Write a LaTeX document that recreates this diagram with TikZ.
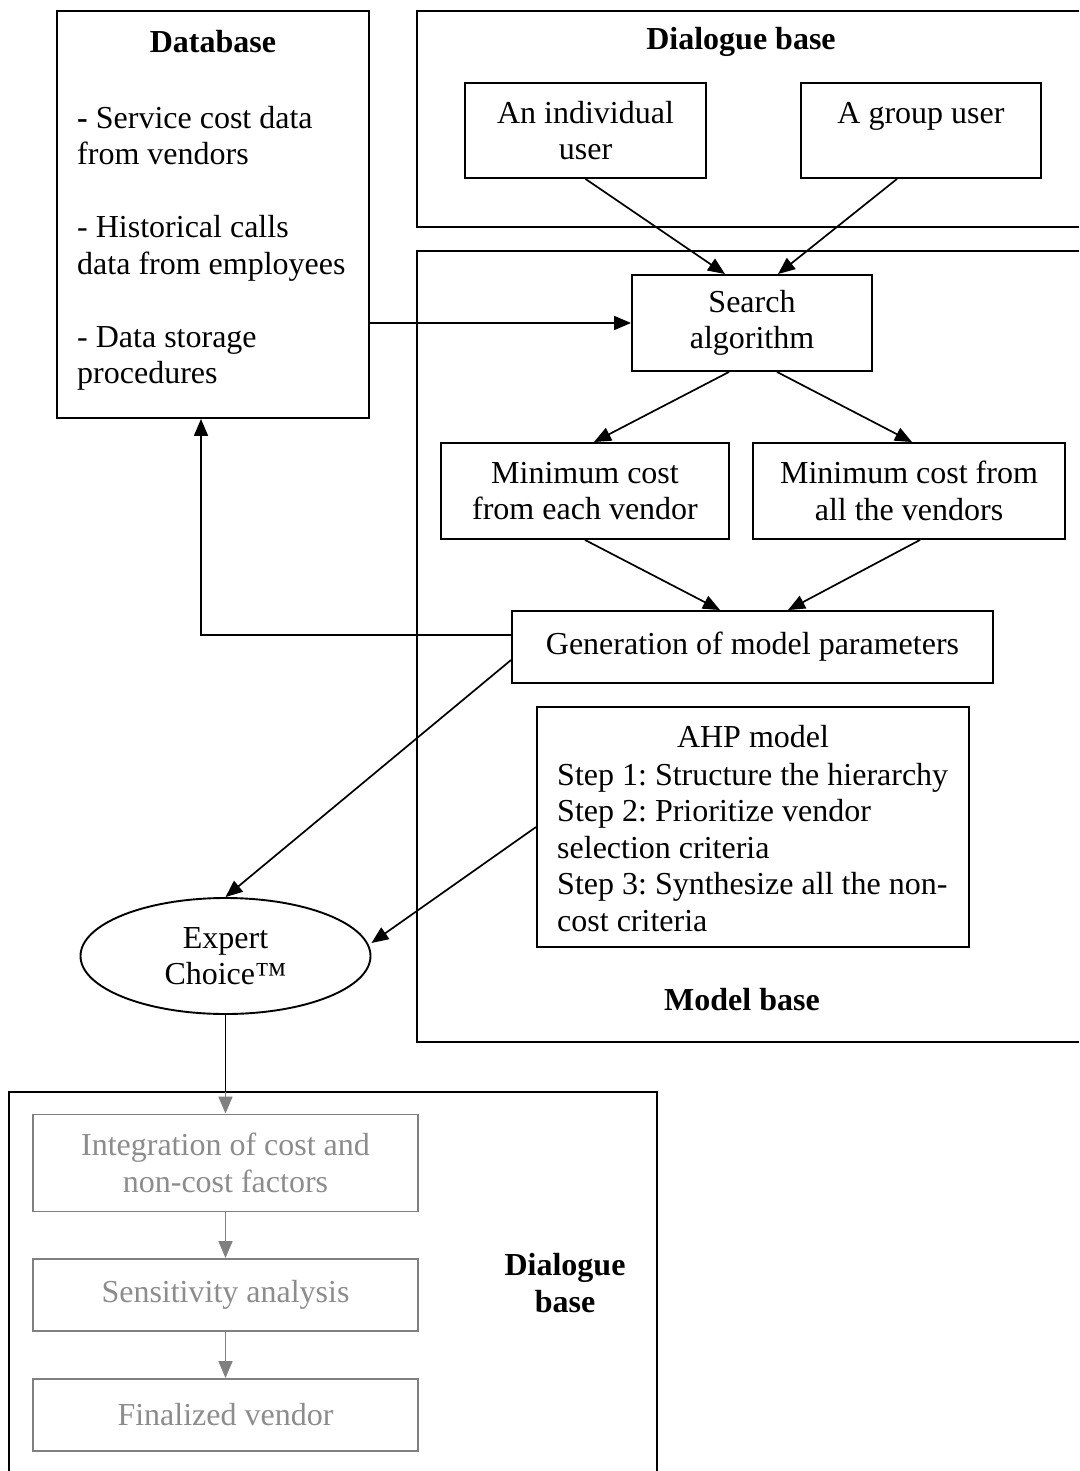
\documentclass[tikz,border=0pt]{standalone}
\usepackage{fontspec}
\setmainfont{Liberation Serif}
\usetikzlibrary{arrows.meta,shapes.geometric,calc}
\definecolor{gline}{RGB}{128,128,128}
\definecolor{gtext}{RGB}{140,140,140}
\frenchspacing
\tikzset{
  basefont/.style={font=\fontsize{32pt}{36.5pt}\selectfont\frenchspacing},
  bx/.style={basefont, draw, line width=1.9pt, inner sep=0pt, align=center},
  gbx/.style={bx, draw=gline, text=gtext},
  lbl/.style={basefont, inner sep=0pt, align=center},
  frame/.style={line width=1.9pt},
  arr/.style={line width=1.7pt, -{Triangle[length=17pt,width=14pt]}},
  garr/.style={arr, draw=gline}
}
\begin{document}
\begin{tikzpicture}[x=1pt,y=-1pt]
\useasboundingbox (0,0) rectangle (1079,1471);
% frames of the bases
\draw[frame] (1079,11) -- (417,11) -- (417,227) -- (1079,227);
\draw[frame] (1079,251) -- (417,251) -- (417,1042) -- (1079,1042);
\draw[frame] (9,1471) -- (9,1092) -- (657,1092) -- (657,1471);
\coordinate (dbottop) at (9,1092);

% database
\node[bx, minimum width=312pt, minimum height=407pt] (db) at (213,214.5) {};
\node[lbl] (dbtitle) at (213,42) {\textbf{Database}};
\node[lbl, align=left, anchor=north west] (dbtext) at (77,106)
  {\textbf{-} Service cost data\\from vendors\\[36.5pt]- Historical calls\\data from employees\\[36.5pt]- Data storage\\procedures};

% dialogue base (top)
\node[lbl] (dlgtitle) at (741,42) {\textbf{Dialogue base}};
\node[bx, minimum width=241pt, minimum height=95pt] (indiv) at (585.5,130.5) {An individual\\user};
\node[bx, minimum width=240pt, minimum height=95pt, text height=22pt, text depth=36pt] (group) at (921,130.5) {A group user};

% model base
\node[bx, minimum width=240pt, minimum height=96pt] (search) at (752,323) {Search\\algorithm};
\node[bx, minimum width=288pt, minimum height=96pt] (mineach) at (585,491) {Minimum cost\\from each vendor};
\node[bx, minimum width=312pt, minimum height=96pt] (minall) at (909,491) {Minimum cost from\\all the vendors};
\node[bx, minimum width=481pt, minimum height=72pt] (gen) at (752.5,647) {Generation of model parameters};
\node[bx, minimum width=432pt, minimum height=240pt] (ahp) at (753,827) {};
\node[lbl] (ahptitle) at (753,737) {AHP model};
\node[lbl, align=left, anchor=north west] (ahptext) at (557,763)
  {Step 1: Structure the hierarchy\\Step 2: Prioritize vendor\\selection criteria\\Step 3: Synthesize all the non-\\cost criteria};
\node[lbl] (modeltitle) at (742,1000) {\textbf{Model base}};

% expert choice
\node[bx, ellipse, minimum width=290pt, minimum height=116pt] (expert) at (225.5,956) {Expert\\Choice™};

% dialogue base (bottom)
\node[lbl] (dlgbot) at (565,1283) {\textbf{Dialogue}\\\textbf{base}};
\node[gbx, minimum width=385pt, minimum height=97pt] (integ) at (225.5,1163) {Integration of cost and\\non-cost factors};
\node[gbx, minimum width=385pt, minimum height=72pt] (sens) at (225.5,1295) {Sensitivity analysis};
\node[gbx, minimum width=385pt, minimum height=72pt] (final) at (225.5,1415) {Finalized vendor};

% connectors
\draw[arr] (indiv.south) -- ([xshift=-27pt]search.north);
\draw[arr] ([xshift=-24pt]group.south) -- ([xshift=26pt]search.north);
\draw[arr] (search.west -| db.east) -- (search.west);
\draw[arr] ([xshift=-23pt]search.south) -- ([xshift=9pt]mineach.north);
\draw[arr] ([xshift=25pt]search.south) -- ([xshift=3pt]minall.north);
\draw[arr] (mineach.south) -- ([xshift=-32.5pt]gen.north);
\draw[arr] ([xshift=11pt]minall.south) -- ([xshift=35.5pt]gen.north);
\draw[arr] ([yshift=12pt]gen.west) -| ([xshift=-12pt]db.south);
\draw[arr] ([yshift=-13pt]gen.west) -- (expert.north);
\draw[arr] (ahp.west) -- ([yshift=13pt]expert.east);
\draw[frame] (expert.south) -- (expert.south |- dbottop);
\draw[garr] (expert.south |- dbottop) -- (integ.north);
\draw[garr] (integ.south) -- (sens.north);
\draw[garr] (sens.south) -- (final.north);
\end{tikzpicture}
\end{document}
